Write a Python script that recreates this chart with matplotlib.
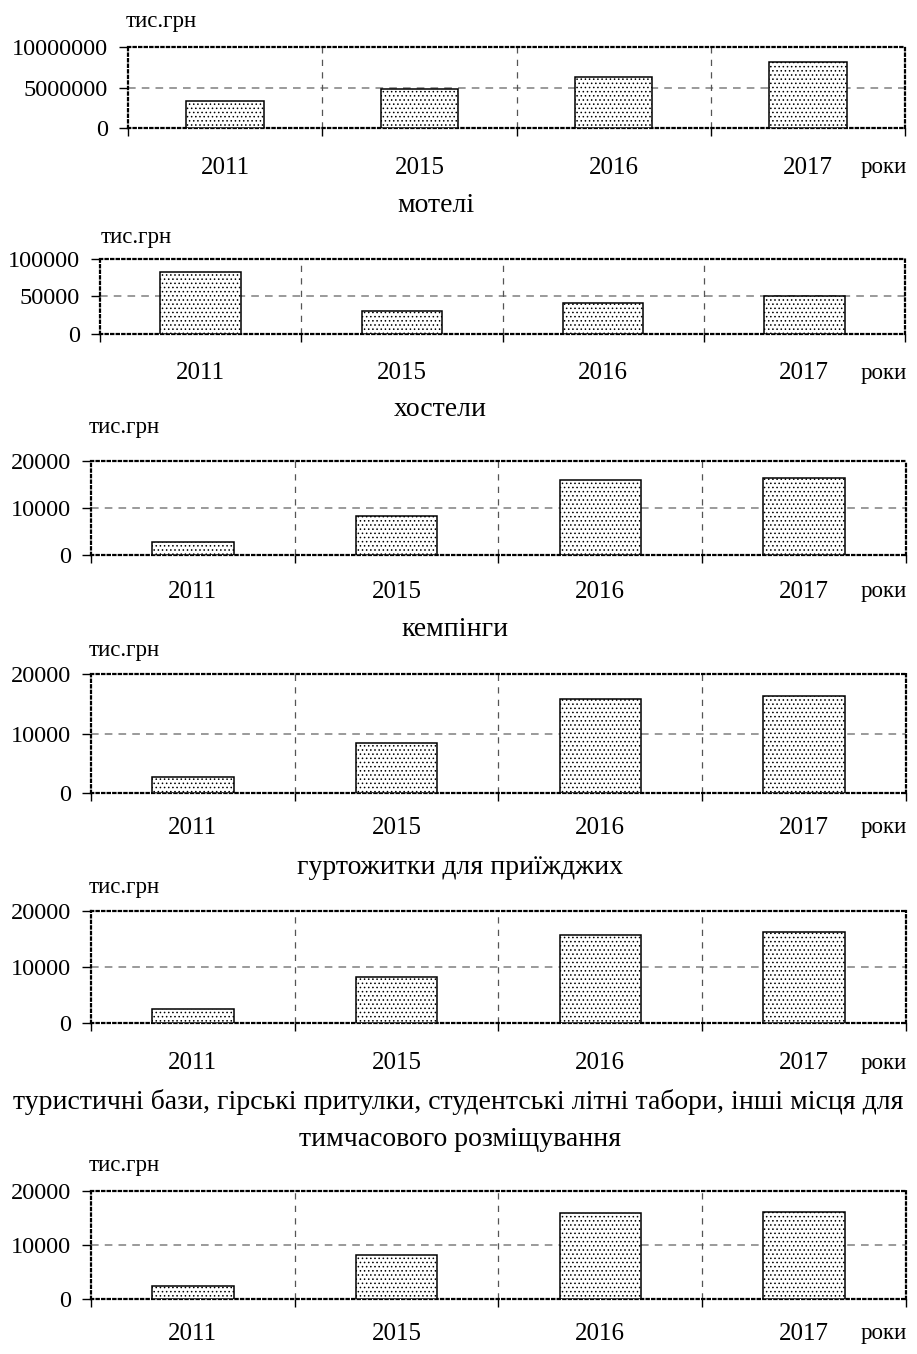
import numpy as np
import matplotlib
matplotlib.use("Agg")
import matplotlib.pyplot as plt
from matplotlib.transforms import blended_transform_factory

plt.rcParams['font.family'] = ['Liberation Serif', 'DejaVu Serif']
plt.rcParams['hatch.linewidth'] = 0.6

# дані (тис.грн)
years = ['2011', '2015', '2016', '2017']
hotels = [3330000, 4860000, 6300000, 8200000]
motels = [83000, 30500, 41000, 50000]
hostels = [2700, 8300, 16000, 16400]
campings = [2650, 8400, 15800, 16250]
dorms = [2550, 8200, 15800, 16250]
other = [2500, 8200, 15900, 16100]

y_max = [10000000, 100000, 20000, 20000, 20000, 20000]

W, H = 917, 1354
fig = plt.figure(figsize=(W / 100, H / 100), dpi=100)


def fx(x):
    return x / W


def fy(y):
    return 1 - y / H


# розміщення панелей у пікселях: (ліво, верх, право, низ, y підписів років, x/y "тис.грн")
layout = [
    (128, 47, 905, 128, 168, 126, 22),
    (100, 259, 905, 334, 373, 101, 238),
    (91, 461, 906, 555, 592, 89, 428),
    (91, 674, 906, 793, 828, 89, 650),
    (91, 911, 906, 1023, 1063, 89, 887),
    (91, 1191, 906, 1299, 1334, 89, 1165),
]
series = [hotels, motels, hostels, campings, dorms, other]

for vals, ymax, (l, t, r, b, ty, ux, uy) in zip(series, y_max, layout):
    ax = fig.add_axes([fx(l), fy(b), fx(r - l), (b - t) / H])
    x = np.arange(len(years)) + 0.5
    ax.bar(x, vals, width=0.4, color='white', edgecolor='black',
           hatch='....', linewidth=1.1, zorder=3)
    ax.set_xlim(0, 4)
    ax.set_ylim(0, ymax)
    ax.set_yticks([0, ymax // 2, ymax])
    ax.set_yticklabels(['0', str(ymax // 2), str(ymax)])
    ax.set_xticks([0, 1, 2, 3, 4])
    ax.set_xticklabels([])
    ax.tick_params(axis='x', direction='out', length=6, width=1)
    ax.tick_params(axis='y', direction='out', length=6.5, width=1,
                   labelsize=17.5, pad=8)
    for s in ax.spines.values():
        s.set_linestyle((0, (1, 1.5)))
        s.set_linewidth(1.6)
    ax.axhline(ymax / 2, color='#7f7f7f', ls=(0, (5, 4)), lw=1.1, zorder=1)
    for bnd in [1, 2, 3]:
        ax.axvline(bnd, color='#555555', ls=(0, (5, 5)), lw=0.9, zorder=1)

    tr = blended_transform_factory(ax.transData, fig.transFigure)
    for xi, yr in zip(x, years):
        ax.text(xi, fy(ty), yr, transform=tr, ha='center', va='center',
                fontsize=18)
    fig.text(fx(907), fy(ty), 'роки', ha='right', va='center', fontsize=16.5)
    fig.text(fx(ux), fy(uy), 'тис.грн', ha='left', va='center', fontsize=16.5)

fig.text(fx(436), fy(205), 'мотелі', ha='center', va='center', fontsize=20)
fig.text(fx(440), fy(410), 'хостели', ha='center', va='center', fontsize=20)
fig.text(fx(455), fy(630), 'кемпінги', ha='center', va='center', fontsize=20)
fig.text(fx(460), fy(868), 'гуртожитки для приїжджих', ha='center',
         va='center', fontsize=20)
fig.text(fx(458), fy(1102),
         'туристичні бази, гірські притулки, студентські літні табори, інші місця для',
         ha='center', va='center', fontsize=20)
fig.text(fx(460), fy(1140), 'тимчасового розміщування', ha='center',
         va='center', fontsize=20)

plt.savefig('out.png', dpi=100)
